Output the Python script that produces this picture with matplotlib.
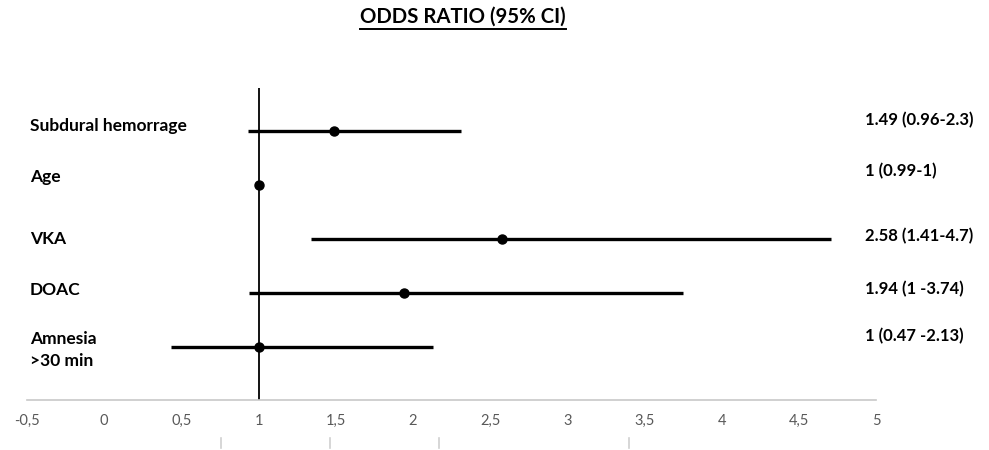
import matplotlib
matplotlib.use("Agg")
import matplotlib.pyplot as plt
import matplotlib.transforms as mtransforms
from matplotlib.lines import Line2D

plt.rcParams['font.family'] = ['Lato', 'DejaVu Sans']

# data
labels = ["Subdural hemorrage", "Age", "VKA", "DOAC", "Amnesia\n>30 min"]
odds = [1.49, 1.0, 2.58, 1.94, 1.0]
ci_low = [0.93, 0.99, 1.34, 0.94, 0.43]
ci_high = [2.31, 1.0, 4.71, 3.75, 2.13]
ci_text = ["1.49 (0.96-2.3)", "1 (0.99-1)", "2.58 (1.41-4.7)",
           "1.94 (1 -3.74)", "1 (0.47 -2.13)"]
xticks = [-0.5, 0, 0.5, 1, 1.5, 2, 2.5, 3, 3.5, 4, 4.5, 5]
stray_marks = [0.754, 1.46, 2.167, 3.40]

rows = [5, 4, 3, 2, 1]
left_dy = [4, 6, 0, 2, -2]      # label offsets in points
right_dy = [8, 10, 2, 3, 8]

fig = plt.figure(figsize=(9.89, 4.5), dpi=100)
ax = fig.add_axes([27 / 989, 1 - 400 / 450, (876 - 27) / 989, (400 - 88) / 450])

ax.axvline(1, color='black', lw=1.3, zorder=1)
for y, o, lo, hi in zip(rows, odds, ci_low, ci_high):
    ax.plot([lo, hi], [y, y], color='black', lw=2.4, solid_capstyle='butt', zorder=2)
    ax.plot(o, y, 'o', color='black', ms=6.5, zorder=3)

ax.set_xlim(-0.5, 5)
ax.set_ylim(0.02, 5.8)
ax.set_xticks(xticks)
ax.set_xticklabels([f"{t:g}".replace('.', ',') for t in xticks],
                   color='#595959', fontsize=10.5)
ax.tick_params(axis='x', length=0, pad=10)
ax.set_yticks([])
for s in ['top', 'left', 'right']:
    ax.spines[s].set_visible(False)
ax.spines['bottom'].set_color('#c8c8c8')
ax.spines['bottom'].set_linewidth(1.2)

# category labels on the left and estimates on the right
for y, lab, dy in zip(rows, labels, left_dy):
    tr = mtransforms.offset_copy(
        mtransforms.blended_transform_factory(fig.transFigure, ax.transData),
        fig=fig, x=0, y=dy, units='points')
    ax.text(30 / 989, y, lab, transform=tr, fontsize=12.5, fontweight='bold',
            ha='left', va='center', linespacing=1.5)
for y, txt, dy in zip(rows, ci_text, right_dy):
    tr = mtransforms.offset_copy(
        mtransforms.blended_transform_factory(fig.transFigure, ax.transData),
        fig=fig, x=0, y=dy, units='points')
    ax.text(865 / 989, y, txt, transform=tr, fontsize=12, fontweight='bold',
            ha='left', va='center')

# faint stray marks under the axis
trm = mtransforms.blended_transform_factory(ax.transData, fig.transFigure)
for xm in stray_marks:
    ax.add_line(Line2D([xm, xm], [1 - 438 / 450, 1 - 448 / 450], transform=trm,
                       color='#d0d0d0', lw=1.2, clip_on=False))

# underlined title
title = fig.text(463 / 989, 1 - 17 / 450, "ODDS RATIO (95% CI)", fontsize=14.7,
                 fontweight='bold', ha='center', va='center')
fig.canvas.draw()
bb = title.get_window_extent().transformed(fig.transFigure.inverted())
fig.add_artist(Line2D([bb.x0, bb.x1], [bb.y0 - 0.004, bb.y0 - 0.004],
                      transform=fig.transFigure, color='black', lw=1.4))

fig.savefig("out.png", dpi=100)
